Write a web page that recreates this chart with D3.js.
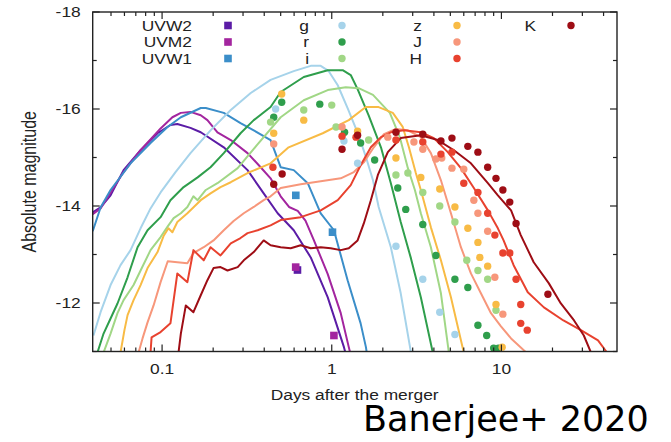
<!DOCTYPE html>
<html>
<head>
<meta charset="utf-8">
<script src="https://cdn.jsdelivr.net/npm/d3@7"></script>
<style>
  body { margin: 0; background: #fff; }
  svg text { font-family: "Liberation Sans", Arial, sans-serif; fill: #222; }
</style>
</head>
<body>
<svg id="chart"></svg>
<script>
// bands, in legend order
const bandNames = ['UVW2', 'UVM2', 'UVW1', 'g', 'r', 'i', 'z', 'J', 'H', 'K'];
const bandColors = ['#5b1ca6', '#a3259f', '#3b8ec9', '#a6d3ea', '#2f9e4c', '#a1d786', '#f8bb45', '#f7977b', '#e8422f', '#9e0d15'];
const squareBands = ['UVW2', 'UVM2', 'UVW1'];

// model light curves [days, abs mag]
const modelUVW2 = [[0.039, -13.87], [0.0434, -13.97], [0.0497, -14.22], [0.0593, -14.74], [0.0747, -15.15], [0.094, -15.5], [0.112, -15.67], [0.123, -15.69], [0.147, -15.61], [0.169, -15.52], [0.231, -15.21], [0.319, -14.74], [0.397, -14.26], [0.48, -13.85], [0.597, -13.5], [0.752, -12.94], [0.946, -12.12], [1.18, -11.09], [1.22, -10.9]];
const modelUVM2 = [[0.039, -13.83], [0.0434, -13.95], [0.0593, -14.7], [0.0747, -15.15], [0.098, -15.6], [0.115, -15.83], [0.129, -15.92], [0.147, -15.94], [0.169, -15.87], [0.185, -15.77], [0.212, -15.52], [0.254, -15.36], [0.319, -15.09], [0.381, -14.8], [0.436, -14.57], [0.5, -14.2], [0.56, -13.98], [0.63, -13.9], [0.7, -13.7], [0.783, -13.3], [0.946, -12.6], [1.13, -11.79], [1.26, -11.09], [1.3, -10.9]];
const modelUVW1 = [[0.039, -13.48], [0.0434, -13.97], [0.0497, -14.33], [0.0652, -14.88], [0.0855, -15.3], [0.1077, -15.63], [0.129, -15.83], [0.169, -16.02], [0.181, -16.02], [0.231, -15.92], [0.29, -15.71], [0.347, -15.56], [0.436, -15.36], [0.5, -14.8], [0.597, -14.74], [0.722, -14.47], [0.861, -13.85], [1.03, -13.5], [1.24, -12.47], [1.48, -11.58], [1.59, -11.09], [1.62, -10.9]];
const modelG = [[0.0394, -11.33], [0.0434, -11.81], [0.0497, -12.37], [0.0569, -12.78], [0.0652, -13.09], [0.0747, -13.54], [0.0855, -13.95], [0.098, -14.28], [0.12, -14.7], [0.147, -15.09], [0.193, -15.56], [0.254, -15.98], [0.333, -16.33], [0.436, -16.6], [0.597, -16.78], [0.752, -16.89], [0.861, -16.89], [0.96, -16.78], [1.085, -16.49], [1.24, -16.02], [1.44, -15.46], [1.61, -14.95], [1.75, -14.53], [1.89, -13.98], [2.23, -13.15], [2.55, -12.2], [2.93, -10.98]];
const modelR = [[0.0416, -10.98], [0.0452, -11.37], [0.0497, -11.68], [0.0546, -11.99], [0.0626, -12.53], [0.0717, -13.15], [0.0821, -13.5], [0.098, -13.77], [0.112, -14.12], [0.134, -14.39], [0.162, -14.59], [0.193, -14.8], [0.231, -15.09], [0.29, -15.5], [0.347, -15.77], [0.436, -16.04], [0.5, -16.35], [0.684, -16.66], [0.947, -16.8], [1.16, -16.8], [1.294, -16.7], [1.42, -16.41], [1.65, -15.87], [1.95, -15.21], [2.23, -14.47], [2.55, -13.67], [2.93, -12.92], [3.35, -12.12], [3.94, -10.98]];
const modelI = [[0.0452, -10.98], [0.0497, -11.37], [0.0546, -11.79], [0.0593, -12.06], [0.0679, -12.37], [0.0747, -12.67], [0.0855, -13.09], [0.098, -13.36], [0.108, -13.58], [0.117, -13.75], [0.129, -13.85], [0.141, -13.98], [0.153, -14.2], [0.162, -14.12], [0.181, -14.33], [0.212, -14.47], [0.279, -14.78], [0.361, -15.25], [0.5, -15.83], [0.684, -16.18], [0.947, -16.39], [1.21, -16.45], [1.44, -16.43], [1.75, -16.29], [2.2, -15.92], [2.52, -15.42], [2.81, -14.78], [3.09, -14.33], [3.35, -13.85], [3.84, -13.15], [4.4, -12.2], [4.9, -10.98]];
const modelZ = [[0.0569, -10.98], [0.06, -11.44], [0.0626, -11.75], [0.0679, -12.06], [0.0747, -12.37], [0.0821, -12.72], [0.094, -13.05], [0.102, -13.38], [0.109, -13.54], [0.115, -13.46], [0.123, -13.67], [0.141, -13.85], [0.169, -14.12], [0.193, -14.26], [0.221, -14.39], [0.254, -14.49], [0.319, -14.68], [0.436, -14.88], [0.557, -15.21], [0.885, -15.5], [1.26, -15.77], [1.587, -16.04], [1.89, -16.04], [2.29, -15.92], [2.62, -15.63], [2.85, -15.21], [3.13, -14.68], [3.35, -14.33], [3.84, -13.56], [4.4, -12.88], [5.04, -12.12], [6.0, -10.98]];
const modelJ = [[0.0727, -10.98], [0.0767, -11.27], [0.0821, -11.6], [0.0891, -11.95], [0.098, -12.43], [0.108, -12.86], [0.123, -12.84], [0.141, -12.82], [0.153, -13.03], [0.176, -13.15], [0.201, -13.29], [0.231, -13.5], [0.264, -13.69], [0.303, -13.85], [0.347, -13.98], [0.397, -14.12], [0.436, -14.2], [0.5, -14.37], [0.656, -14.45], [0.861, -14.51], [1.13, -14.57], [1.35, -14.7], [1.545, -14.9], [1.77, -15.21], [2.03, -15.48], [2.39, -15.59], [2.81, -15.56], [3.35, -15.42], [3.84, -15.09], [4.4, -14.53], [5.04, -13.85], [5.77, -13.15], [6.61, -12.61], [7.57, -12.2], [8.68, -11.79], [9.94, -11.52], [11.4, -11.27], [14.0, -10.98]];
const modelH = [[0.0855, -10.98], [0.0867, -11.29], [0.098, -11.4], [0.112, -11.58], [0.123, -12.61], [0.141, -12.43], [0.153, -13.09], [0.176, -12.88], [0.193, -13.15], [0.221, -12.98], [0.254, -13.23], [0.29, -13.34], [0.319, -13.44], [0.366, -13.5], [0.436, -13.6], [0.5, -13.71], [0.656, -13.77], [0.861, -13.91], [1.085, -14.12], [1.294, -14.43], [1.48, -14.84], [1.7, -15.21], [1.95, -15.42], [2.23, -15.52], [2.66, -15.56], [3.35, -15.52], [4.0, -15.4], [4.83, -15.11], [5.77, -14.78], [6.88, -14.37], [8.32, -13.91], [9.53, -13.54], [10.3, -13.29], [11.8, -12.78], [14.3, -12.22], [17.8, -11.91], [23.2, -11.64], [29.4, -11.44], [37.1, -11.23], [41.9, -10.98]];
const modelK = [[0.125, -10.98], [0.129, -11.37], [0.138, -11.95], [0.153, -11.81], [0.169, -12.16], [0.185, -12.47], [0.201, -12.72], [0.221, -12.74], [0.243, -12.67], [0.279, -12.74], [0.303, -12.88], [0.347, -13.05], [0.397, -13.29], [0.436, -13.19], [0.5, -13.15], [0.573, -13.13], [0.656, -13.19], [0.752, -13.13], [0.861, -13.15], [0.986, -13.13], [1.13, -13.09], [1.26, -13.13], [1.42, -13.29], [1.545, -13.64], [1.7, -14.12], [1.87, -14.64], [2.14, -15.11], [2.55, -15.4], [3.35, -15.46], [4.22, -15.36], [5.25, -15.15], [6.61, -14.88], [8.32, -14.47], [9.53, -14.22], [11.4, -13.91], [13.0, -13.4], [15.5, -12.84], [19.0, -12.41], [22.4, -11.99], [26.8, -11.64], [30.6, -11.33], [33.7, -10.98]];

// observed photometry [days, abs mag]
const obsUVW2 = [[0.628, -12.68]];
const obsUVM2 = [[0.613, -12.74], [1.03, -11.33]];
const obsUVW1 = [[0.614, -14.22], [1.01, -13.46]];
const obsG = [[0.467, -16.0], [1.18, -15.34], [1.42, -14.88], [2.39, -13.17], [3.44, -12.49], [4.33, -11.81], [5.32, -11.35]];
const obsR = [[0.507, -16.14], [0.455, -15.83], [0.85, -16.1], [1.19, -15.52], [1.48, -15.3], [1.79, -14.95], [2.45, -14.37], [2.73, -13.93], [3.44, -13.62], [4.11, -12.98], [5.32, -12.49], [6.34, -12.32], [7.27, -11.54], [8.19, -11.33], [9.0, -11.07], [9.6, -11.07]];
const obsI = [[0.436, -15.73], [0.684, -15.98], [1.0, -16.08], [1.06, -15.63], [1.65, -15.36], [2.39, -14.64], [2.81, -14.68], [3.44, -14.28], [4.33, -14.0], [5.32, -13.67], [6.25, -12.88], [7.27, -12.67], [8.3, -12.49], [9.29, -11.85]];
const obsZ = [[0.507, -16.31], [0.455, -15.5], [0.684, -15.77], [1.42, -15.54], [2.39, -14.99], [3.35, -14.59], [4.33, -14.35], [5.32, -13.98], [6.34, -13.54], [7.27, -13.25], [7.46, -12.94], [8.3, -12.76], [9.29, -11.97], [10.1, -11.09]];
const obsJ = [[0.455, -15.28], [1.15, -15.63], [2.14, -15.42], [3.05, -15.32], [3.44, -15.17], [4.11, -14.97], [4.45, -14.99], [5.11, -14.78], [6.0, -14.76], [6.88, -14.12], [7.27, -13.85], [8.3, -13.48], [9.15, -12.53], [10.2, -11.77]];
const obsH = [[0.45, -14.8], [1.15, -15.44], [1.39, -15.42], [2.39, -15.36], [3.44, -15.32], [4.4, -15.07], [5.11, -15.11], [6.0, -14.47], [7.27, -14.28], [8.3, -13.85], [9.15, -13.4], [10.2, -13.03], [11.2, -13.03], [12.2, -12.49], [13.0, -11.97], [13.0, -11.58], [14.2, -11.44]];
const obsK = [[0.51, -14.66], [0.455, -14.45], [1.15, -15.17], [1.42, -15.46], [2.39, -15.52], [3.44, -15.48], [4.4, -15.34], [5.11, -15.4], [6.34, -15.23], [7.27, -15.11], [8.3, -14.8], [9.29, -14.57], [10.2, -14.33], [11.2, -14.08], [12.2, -13.64], [18.8, -12.18]];

const models = [modelUVW2, modelUVM2, modelUVW1, modelG, modelR, modelI, modelZ, modelJ, modelH, modelK];
const observations = [obsUVW2, obsUVM2, obsUVW1, obsG, obsR, obsI, obsZ, obsJ, obsH, obsK];

const xMajorTicks = [0.1, 1, 10];
const xMinorTicks = [0.05, 0.06, 0.07, 0.08, 0.09, 0.2, 0.3, 0.4, 0.5, 0.6, 0.7, 0.8, 0.9, 2, 3, 4, 5, 6, 7, 8, 9, 20, 30, 40];
const yMajorTicks = [-18, -16, -14, -12];
const yMinorTicks = [-17, -15, -13, -11];

// text in the source image is stretched sideways
function stretchText(sel, factor) {
    sel.each(function () {
        const w = this.getComputedTextLength();
        d3.select(this).attr('textLength', w * factor).attr('lengthAdjust', 'spacingAndGlyphs');
    });
}

class LightCurveChart {

    constructor(_config) {
        this.config = {
            parentElement: _config.parentElement,
            containerWidth: 671,
            containerHeight: 442,
            stretch: 1.24,
            margin: { top: 12, right: 54, bottom: 90.5, left: 92.7 }
        };
        this.initVis();
    }

    initVis() {
        let vis = this;
        const m = vis.config.margin;
        vis.config.width = vis.config.containerWidth - m.left - m.right;
        vis.config.height = vis.config.containerHeight - m.top - m.bottom;

        vis.svg = d3.select(vis.config.parentElement)
            .attr('width', vis.config.containerWidth)
            .attr('height', vis.config.containerHeight);

        vis.chartArea = vis.svg.append('g')
            .attr('transform', `translate(${m.left},${m.top})`);

        vis.x = d3.scaleLog().domain([0.039, 48]).range([0, vis.config.width]);
        vis.y = d3.scaleLinear().domain([-18, -11]).range([0, vis.config.height]);

        vis.svg.append('defs').append('clipPath').attr('id', 'plot-clip')
            .append('rect')
            .attr('width', vis.config.width)
            .attr('height', vis.config.height);

        vis.renderVis();
    }

    renderVis() {
        let vis = this;
        const w = vis.config.width, h = vis.config.height;
        const m = vis.config.margin;

        const line = d3.line()
            .x(d => vis.x(d[0]))
            .y(d => vis.y(d[1]));

        vis.chartArea.append('g')
            .attr('clip-path', 'url(#plot-clip)')
            .selectAll('.model')
            .data(models)
          .join('path')
            .attr('class', 'model')
            .attr('d', line)
            .attr('fill', 'none')
            .attr('stroke', (d, i) => bandColors[i])
            .attr('stroke-width', 2)
            .attr('stroke-linejoin', 'round');

        // observed points, squares for UV bands
        const points = observations.flatMap((obs, i) => obs.map(p => ({ band: bandNames[i], color: bandColors[i], t: p[0], mag: p[1] })));
        const ptG = vis.chartArea.append('g');
        ptG.selectAll('rect')
            .data(points.filter(d => squareBands.includes(d.band)))
          .join('rect')
            .attr('x', d => vis.x(d.t) - 3.8)
            .attr('y', d => vis.y(d.mag) - 3.8)
            .attr('width', 7.6)
            .attr('height', 7.6)
            .attr('fill', d => d.color);
        ptG.selectAll('circle')
            .data(points.filter(d => !squareBands.includes(d.band)))
          .join('circle')
            .attr('cx', d => vis.x(d.t))
            .attr('cy', d => vis.y(d.mag))
            .attr('r', 3.7)
            .attr('fill', d => d.color);

        // frame and inward ticks on all four sides
        vis.chartArea.append('rect')
            .attr('width', w)
            .attr('height', h)
            .attr('fill', 'none')
            .attr('stroke', '#222')
            .attr('stroke-width', 1.4);

        const tickG = vis.chartArea.append('g').attr('stroke', '#222').attr('stroke-width', 1.2);
        const xTicks = xMajorTicks.map(v => ({ v, len: 7 })).concat(xMinorTicks.map(v => ({ v, len: 4 })));
        const yTicks = yMajorTicks.map(v => ({ v, len: 7 })).concat(yMinorTicks.map(v => ({ v, len: 4 })));
        tickG.selectAll('.xb').data(xTicks).join('line').attr('class', 'xb')
            .attr('x1', d => vis.x(d.v)).attr('x2', d => vis.x(d.v))
            .attr('y1', h).attr('y2', d => h - d.len);
        tickG.selectAll('.xt').data(xTicks).join('line').attr('class', 'xt')
            .attr('x1', d => vis.x(d.v)).attr('x2', d => vis.x(d.v))
            .attr('y1', 0).attr('y2', d => d.len);
        tickG.selectAll('.yl').data(yTicks).join('line').attr('class', 'yl')
            .attr('y1', d => vis.y(d.v)).attr('y2', d => vis.y(d.v))
            .attr('x1', 0).attr('x2', d => d.len);
        tickG.selectAll('.yr').data(yTicks).join('line').attr('class', 'yr')
            .attr('y1', d => vis.y(d.v)).attr('y2', d => vis.y(d.v))
            .attr('x1', w).attr('x2', d => w - d.len);

        const xLabels = vis.chartArea.selectAll('.x-label')
            .data(xMajorTicks)
          .join('text')
            .attr('class', 'x-label')
            .attr('x', d => vis.x(d))
            .attr('y', h + 22)
            .attr('text-anchor', 'middle')
            .attr('font-size', '14px')
            .text(d => d);
        stretchText(xLabels, vis.config.stretch);

        const yLabels = vis.chartArea.selectAll('.y-label')
            .data(yMajorTicks)
          .join('text')
            .attr('class', 'y-label')
            .attr('x', -12)
            .attr('y', d => vis.y(d))
            .attr('dy', '0.36em')
            .attr('text-anchor', 'end')
            .attr('font-size', '14px')
            .text(d => d);
        stretchText(yLabels, vis.config.stretch);

        const xTitle = vis.chartArea.append('text')
            .attr('x', 262)
            .attr('y', h + 48)
            .attr('text-anchor', 'middle')
            .attr('font-size', '14px')
            .text('Days after the merger');
        stretchText(xTitle, vis.config.stretch);

        vis.svg.append('text')
            .attr('transform', `translate(36,${m.top + h / 2}) scale(1.24,1) rotate(-90)`)
            .attr('text-anchor', 'middle')
            .attr('font-size', '16px')
            .text('Absolute magnitude');

        // legend: text right-aligned, marker to its right
        const colText = [192, 309, 422, 536];
        const colMarker = [228, 342, 457, 571];
        const rowY = [25.5, 42, 58.5];
        const legendItems = bandNames.map((b, i) => ({
            band: b, color: bandColors[i],
            col: i < 3 ? 0 : i < 6 ? 1 : i < 9 ? 2 : 3,
            row: i < 9 ? i % 3 : 0
        }));
        const legend = vis.svg.append('g');
        const legendText = legend.selectAll('text')
            .data(legendItems)
          .join('text')
            .attr('x', d => colText[d.col])
            .attr('y', d => rowY[d.row])
            .attr('dy', '0.36em')
            .attr('text-anchor', 'end')
            .attr('font-size', '14px')
            .text(d => d.band);
        stretchText(legendText, vis.config.stretch);
        legend.selectAll('rect')
            .data(legendItems.filter(d => squareBands.includes(d.band)))
          .join('rect')
            .attr('x', d => colMarker[d.col] - 3.8)
            .attr('y', d => rowY[d.row] - 3.8)
            .attr('width', 7.6).attr('height', 7.6)
            .attr('fill', d => d.color);
        legend.selectAll('circle')
            .data(legendItems.filter(d => !squareBands.includes(d.band)))
          .join('circle')
            .attr('cx', d => colMarker[d.col])
            .attr('cy', d => rowY[d.row])
            .attr('r', 3.7)
            .attr('fill', d => d.color);

        vis.svg.append('text')
            .attr('x', 363)
            .attr('y', 431)
            .attr('font-size', '35px')
            .style('font-family', '"DejaVu Sans", sans-serif')
            .style('fill', '#000')
            .text('Banerjee+ 2020');
    }
}

new LightCurveChart({ parentElement: '#chart' });
</script>
</body>
</html>
